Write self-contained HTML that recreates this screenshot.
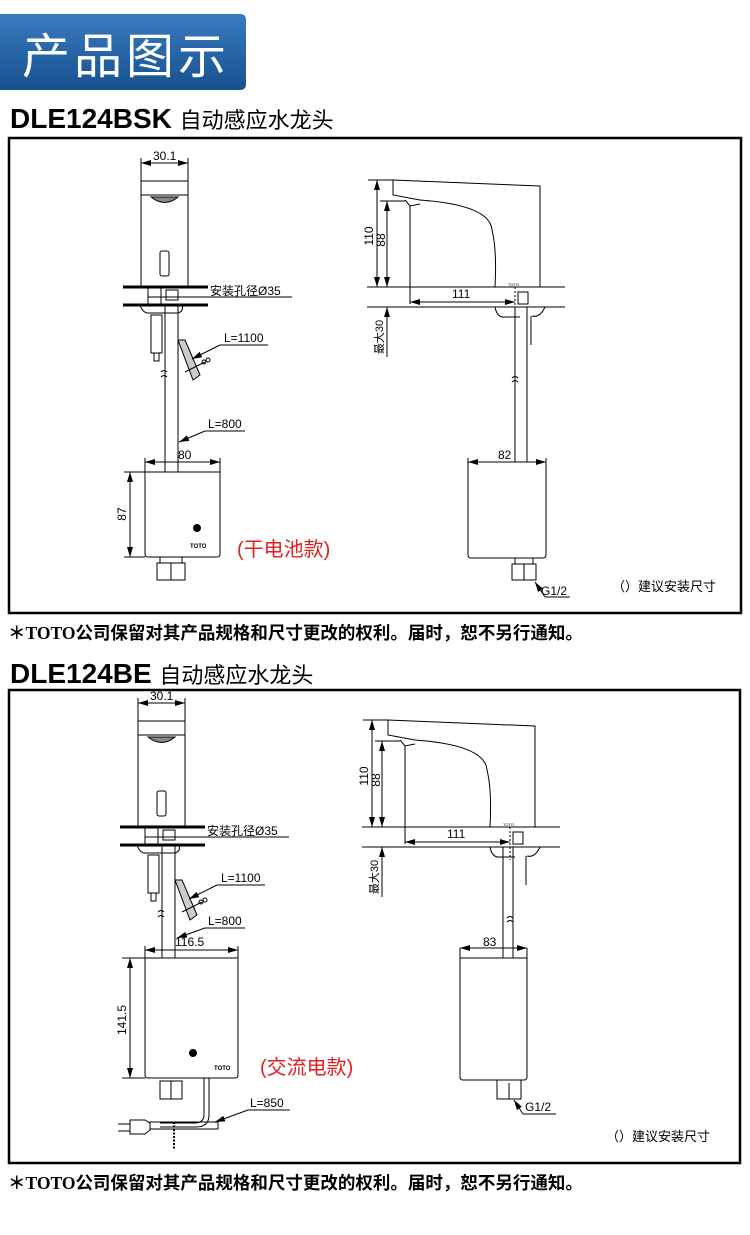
<!DOCTYPE html>
<html><head><meta charset="utf-8"><style>
body{margin:0;background:#fff;width:750px;height:1235px;overflow:hidden}
svg{display:block}
text{font-family:"Liberation Sans","Noto Sans CJK SC",sans-serif}
</style></head><body>
<svg width="750" height="1235" viewBox="0 0 750 1235" xmlns="http://www.w3.org/2000/svg">
<defs>
<linearGradient id="bg" x1="0" y1="0" x2="0" y2="1"><stop offset="0" stop-color="#3a7cc0"/><stop offset="1" stop-color="#17508e"/></linearGradient>
<marker id="ar" viewBox="0 0 10 6" refX="10" refY="3" markerWidth="10" markerHeight="6" orient="auto-start-reverse"><path d="M0,0L10,3L0,6z" fill="#000"/></marker>

<g id="ltop" fill="none" stroke="#000" stroke-width="1">
 <line x1="141" y1="163" x2="188" y2="163" marker-start="url(#ar)" marker-end="url(#ar)"/>
 <line x1="141" y1="158" x2="141" y2="181"/><line x1="188" y1="158" x2="188" y2="181"/>
 <text x="153" y="160" font-size="12" fill="#000" stroke="none">30.1</text>
 <rect x="141" y="181" width="47" height="106"/>
 <line x1="141" y1="195" x2="188" y2="195"/>
 <path d="M151,197 Q165,208 178,197 Z" fill="#888"/>
 <rect x="160" y="251" width="9" height="25" rx="2"/>
 <line x1="123" y1="287" x2="208" y2="287" stroke-width="3"/>
 <line x1="123" y1="305" x2="208" y2="305" stroke-width="3"/>
 <line x1="148" y1="287" x2="148" y2="305"/><line x1="161" y1="287" x2="161" y2="305"/>
 <rect x="166" y="290" width="12" height="10"/>
 <line x1="148" y1="297" x2="292" y2="297"/>
 <text x="210" y="295" font-size="12" fill="#000" stroke="none">安装孔径Ø35</text>
 <path d="M140,305 Q143,314 150,313 L178,313 Q184,311 182,305"/>
 <rect x="151" y="315" width="11" height="38"/><rect x="154" y="353" width="5" height="8"/>
 <path d="M178,340 L185,340 L200,375 L193,380 Z" fill="#ccc"/>
 <line x1="205" y1="362" x2="185" y2="372"/>
 <circle cx="204" cy="362" r="2"/><circle cx="208" cy="360" r="2"/>
 <line x1="220" y1="345" x2="268" y2="345"/>
 <line x1="220" y1="345" x2="192" y2="359" marker-end="url(#ar)"/>
 <text x="224" y="342" font-size="12" fill="#000" stroke="none">L=1100</text>
 <path d="M161,372 q3,-3 6,0 M161,377 q3,-3 6,0" stroke-width="1"/>
</g>

<g id="rtop" fill="none" stroke="#000" stroke-width="1">
 <path d="M393,180 L540,186 L540,287 M393,180 L393,195 L420,200 Q490,205 492,230 Q497,250 495,287"/>
 <path d="M405,200 L410,206 L420,204"/>
 <line x1="368" y1="180" x2="393" y2="180"/><line x1="380" y1="201" x2="405" y2="201"/>
 <line x1="377" y1="180" x2="377" y2="287" marker-start="url(#ar)" marker-end="url(#ar)"/>
 <line x1="387" y1="201" x2="387" y2="287" marker-start="url(#ar)" marker-end="url(#ar)"/>
 <text x="373" y="236" font-size="12" fill="#000" stroke="none" transform="rotate(-90 373 236)" text-anchor="middle">110</text>
 <text x="385" y="240" font-size="12" fill="#000" stroke="none" transform="rotate(-90 385 240)" text-anchor="middle">88</text>
 <line x1="367" y1="287" x2="565" y2="287"/><line x1="367" y1="307" x2="565" y2="307"/>
 <line x1="410" y1="206" x2="410" y2="304"/>
 <line x1="410" y1="302" x2="515" y2="302" marker-start="url(#ar)" marker-end="url(#ar)"/>
 <text x="452" y="298" font-size="12" fill="#000" stroke="none">111</text>
 <text x="508" y="286" font-size="4" fill="#000" stroke="none">TOTO</text>
 <line x1="515" y1="287" x2="515" y2="320" stroke-dasharray="2,2"/>
 <rect x="518" y="292" width="10" height="12"/>
 <path d="M495,307 Q497,318 505,317 L520,317 M528,307 L545,307 Q540,318 532,316"/>
 <line x1="387" y1="307" x2="387" y2="357" marker-start="url(#ar)"/>
 <text x="383" y="337" font-size="11" fill="#000" stroke="none" transform="rotate(-90 383 337)" text-anchor="middle">最大30</text>
 <line x1="531" y1="316" x2="531" y2="345"/>
 <path d="M512,378 q3,-3 6,0 M512,382 q3,-3 6,0"/>
</g>
</defs>

<path d="M0,14 H240 Q246,14 246,20 V84 Q246,90 240,90 H0 Z" fill="url(#bg)"/>
<text x="22" y="73" font-size="48" letter-spacing="4" fill="#fff">产品图示</text>

<text x="10" y="128" font-size="28" font-weight="bold" fill="#000">DLE124BSK <tspan font-size="22" font-weight="normal">自动感应水龙头</tspan></text>
<rect x="9" y="138" width="732" height="475" fill="none" stroke="#000" stroke-width="2.5"/>
<text x="8" y="639" font-size="17.5" font-weight="bold" fill="#000">＊<tspan font-family="Liberation Serif,serif">TOTO</tspan>公司保留对其产品规格和尺寸更改的权利。届时，恕不另行通知。</text>

<text x="10" y="683" font-size="28" font-weight="bold" fill="#000">DLE124BE <tspan font-size="22" font-weight="normal">自动感应水龙头</tspan></text>
<rect x="9" y="690" width="731" height="473" fill="none" stroke="#000" stroke-width="2.5"/>
<text x="8" y="1189" font-size="17.5" font-weight="bold" fill="#000">＊<tspan font-family="Liberation Serif,serif">TOTO</tspan>公司保留对其产品规格和尺寸更改的权利。届时，恕不另行通知。</text>

<use href="#ltop"/>
<use href="#rtop"/>
<g fill="none" stroke="#000" stroke-width="1">
 <line x1="165" y1="305" x2="165" y2="472"/><line x1="178" y1="305" x2="178" y2="472"/>
 <line x1="515" y1="307" x2="515" y2="462"/><line x1="527" y1="307" x2="527" y2="462"/>
 <line x1="205" y1="431" x2="245" y2="431"/>
 <line x1="205" y1="431" x2="179" y2="442" marker-end="url(#ar)"/>
 <line x1="145" y1="462" x2="220" y2="462" marker-start="url(#ar)" marker-end="url(#ar)"/>
 <line x1="145" y1="458" x2="145" y2="472"/><line x1="220" y1="458" x2="220" y2="472"/>
 <path d="M145,472 H220 V554 Q220,557 217,557 H148 Q145,557 145,554 Z"/>
 <circle cx="197" cy="528" r="3.5" fill="#000"/>
 <line x1="124" y1="472" x2="145" y2="472"/><line x1="124" y1="557" x2="145" y2="557"/>
 <line x1="130" y1="472" x2="130" y2="557" marker-start="url(#ar)" marker-end="url(#ar)"/>
 <rect x="160" y="557" width="22" height="6"/><rect x="157" y="563" width="28" height="17"/><line x1="171" y1="563" x2="171" y2="580"/>
 <line x1="468" y1="462" x2="546" y2="462" marker-start="url(#ar)" marker-end="url(#ar)"/>
 <line x1="468" y1="458" x2="468" y2="470"/><line x1="546" y1="458" x2="546" y2="470"/>
 <path d="M468,462 H546 V555 Q546,558 543,558 H471 Q468,558 468,555 Z"/>
 <rect x="515" y="558" width="18" height="6"/><rect x="512" y="564" width="24" height="16"/><line x1="524" y1="564" x2="524" y2="580"/>
 <line x1="545" y1="597" x2="570" y2="597"/><line x1="545" y1="597" x2="535" y2="582" marker-end="url(#ar)"/>
</g>
<g fill="#000" font-size="12">
 <text x="208" y="428">L=800</text>
 <text x="178" y="459">80</text>
 <text x="126" y="514" transform="rotate(-90 126 514)" text-anchor="middle">87</text>
 <text x="190" y="548" font-size="6" font-family="Liberation Serif,serif" font-weight="bold">TOTO</text>
 <text x="498" y="459">82</text>
 <text x="541" y="595">G1/2</text>
 <text x="612" y="591" font-size="13">（）建议安装尺寸</text>
</g>
<text x="237" y="556" font-size="20" fill="#e0201e">(干电池款)</text>

<use href="#ltop" transform="translate(-3,540)"/>
<use href="#rtop" transform="translate(-5,540)"/>
<g fill="none" stroke="#000" stroke-width="1">
 <line x1="162" y1="845" x2="162" y2="958"/><line x1="175" y1="845" x2="175" y2="958"/>
 <line x1="503" y1="847" x2="503" y2="958"/><line x1="513" y1="847" x2="513" y2="958"/>
 <line x1="205" y1="928" x2="245" y2="928"/>
 <line x1="205" y1="928" x2="177" y2="938" marker-end="url(#ar)"/>
 <line x1="145" y1="950" x2="238" y2="950" marker-start="url(#ar)" marker-end="url(#ar)"/>
 <line x1="145" y1="946" x2="145" y2="958"/><line x1="238" y1="946" x2="238" y2="958"/>
 <path d="M145,958 H238 V1075 Q238,1078 235,1078 H148 Q145,1078 145,1075 Z"/>
 <circle cx="193" cy="1053" r="3.5" fill="#000"/>
 <line x1="122" y1="958" x2="145" y2="958"/><line x1="122" y1="1078" x2="145" y2="1078"/>
 <line x1="130" y1="958" x2="130" y2="1078" marker-start="url(#ar)" marker-end="url(#ar)"/>
 <rect x="160" y="1081" width="22" height="18"/><line x1="171" y1="1081" x2="171" y2="1099"/>
 <path d="M204,1078 V1115 Q204,1122 196,1123 H160 M209,1078 V1115 Q209,1127 196,1127 H160"/>
 <rect x="150" y="1122" width="68" height="7"/>
 <path d="M130,1120 H145 L150,1123 V1130 L145,1134 H130 Z"/>
 <line x1="118" y1="1124" x2="130" y2="1124"/><line x1="118" y1="1131" x2="130" y2="1131"/>
 <line x1="174" y1="1122" x2="174" y2="1150" stroke-dasharray="2,1.5" stroke-width="2"/>
 <line x1="248" y1="1110" x2="290" y2="1110"/>
 <line x1="248" y1="1110" x2="215" y2="1122" marker-end="url(#ar)"/>
 <line x1="460" y1="948" x2="527" y2="948" marker-start="url(#ar)" marker-end="url(#ar)"/>
 <path d="M460,958 H527 V1077 Q527,1080 524,1080 H463 Q460,1080 460,1077 Z"/>
 <line x1="460" y1="948" x2="460" y2="958"/><line x1="527" y1="948" x2="527" y2="958"/>
 <rect x="497" y="1080" width="24" height="19"/><line x1="509" y1="1083" x2="509" y2="1099"/>
 <line x1="523" y1="1114" x2="556" y2="1114"/><line x1="523" y1="1114" x2="514" y2="1100" marker-end="url(#ar)"/>
</g>
<g fill="#000" font-size="12">
 <text x="208" y="925">L=800</text>
 <text x="175" y="946">116.5</text>
 <text x="126" y="1020" transform="rotate(-90 126 1020)" text-anchor="middle">141.5</text>
 <text x="214" y="1070" font-size="6" font-family="Liberation Serif,serif" font-weight="bold">TOTO</text>
 <text x="250" y="1107">L=850</text>
 <text x="483" y="946">83</text>
 <text x="525" y="1111">G1/2</text>
 <text x="606" y="1141" font-size="13">（）建议安装尺寸</text>
</g>
<text x="260" y="1074" font-size="20" fill="#e0201e">(交流电款)</text>
</svg>
</body></html>
